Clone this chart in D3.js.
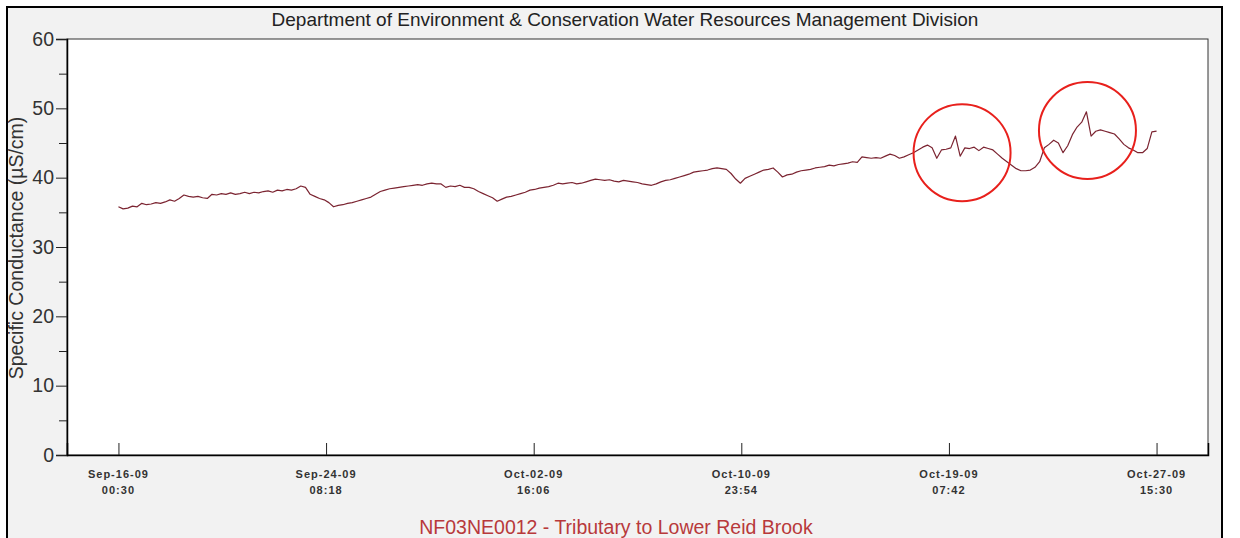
<!DOCTYPE html>
<html>
<head>
<meta charset="utf-8">
<script src="https://cdn.jsdelivr.net/npm/d3@7"></script>
<style>
  body { margin: 0; background: #ffffff; }
  svg { display: block; font-family: Arial, "Liberation Sans", sans-serif; }
</style>
</head>
<body>
<script>
// readings: every 4.5 hours from Sep-16-09 00:30 to Oct-27-09 15:30
const startTime = "2009-09-16 00:30";
const stepHours = 4.5;
const conductance = [
  35.8, 35.5, 35.6, 35.9, 35.8, 36.3, 36.1, 36.2, 36.4, 36.3,
  36.5, 36.8, 36.6, 37.0, 37.5, 37.3, 37.2, 37.3, 37.1, 37.0,
  37.6, 37.5, 37.7, 37.6, 37.8, 37.6, 37.7, 37.9, 37.7, 37.9,
  37.8, 38.0, 38.1, 37.9, 38.2, 38.1, 38.3, 38.2, 38.4, 38.8,
  38.6, 37.6, 37.3, 37.0, 36.8, 36.4, 35.8, 36.0, 36.1, 36.3,
  36.4, 36.6, 36.8, 37.0, 37.2, 37.6, 38.0, 38.2, 38.4, 38.5,
  38.6, 38.7, 38.8, 38.9, 39.0, 38.9, 39.1, 39.2, 39.1, 39.1,
  38.6, 38.8, 38.7, 38.9, 38.6, 38.6, 38.4, 38.0, 37.7, 37.4,
  37.1, 36.6, 36.9, 37.2, 37.3, 37.5, 37.7, 37.9, 38.2, 38.3,
  38.5, 38.6, 38.7, 38.9, 39.2, 39.1, 39.2, 39.3, 39.1, 39.2,
  39.4, 39.6, 39.8, 39.7, 39.6, 39.7, 39.5, 39.4, 39.6, 39.5,
  39.4, 39.3, 39.1, 39.0, 38.9, 39.1, 39.4, 39.6, 39.7, 39.9,
  40.1, 40.3, 40.5, 40.8, 40.9, 41.0, 41.1, 41.3, 41.4, 41.3,
  41.2, 40.6, 39.8, 39.2, 39.9, 40.2, 40.5, 40.8, 41.1, 41.2,
  41.4, 40.8, 40.1, 40.4, 40.5, 40.8, 41.0, 41.1, 41.2, 41.4,
  41.5, 41.6, 41.8, 41.7, 41.9, 42.0, 42.1, 42.3, 42.2, 43.0,
  42.9, 42.8, 42.9, 42.8, 43.1, 43.4, 43.2, 42.8, 43.0, 43.3,
  43.6, 44.0, 44.4, 44.7, 44.3, 42.8, 44.0, 44.1, 44.3, 46.0,
  43.1, 44.3, 44.2, 44.4, 43.9, 44.4, 44.2, 44.0, 43.4, 42.8,
  42.3, 41.8, 41.3, 41.0, 41.0, 41.1, 41.5, 42.3, 44.3, 44.8,
  45.4, 45.0, 43.6, 44.6, 46.2, 47.3, 48.0, 49.5, 46.0, 46.7,
  46.9, 46.7, 46.5, 46.3, 45.6, 44.8, 44.3, 44.0, 43.6, 43.6,
  44.2, 46.6, 46.7
];

const tickTimes = ["2009-09-16 00:30", "2009-09-24 08:18", "2009-10-02 16:06",
                   "2009-10-10 23:54", "2009-10-19 07:42", "2009-10-27 15:30"];
const yTicks = [0, 10, 20, 30, 40, 50, 60];
const yMinorTicks = [5, 15, 25, 35, 45, 55];

// the two circled events
const noteTimes = ["2009-10-19 20:20", "2009-10-24 21:00"];
const noteValues = [43.6, 46.8];

const titleText = "Department of Environment & Conservation Water Resources Management Division";
const footerText = "NF03NE0012 - Tributary to Lower Reid Brook";
const yLabel = "Specific Conductance (\u00b5S/cm)";

const W = 1240, H = 538;
const plot = {left: 67, top: 39, right: 1208, bottom: 455};
const padHours = 49.5;

const parse = d3.utcParse("%Y-%m-%d %H:%M");
const t0 = parse(startTime);
const data = conductance.map((v, i) => ({t: d3.utcMinute.offset(t0, Math.round(i * stepHours * 60)), v: v}));
const tEnd = data[data.length - 1].t;

const x = d3.scaleUtc()
  .domain([d3.utcMinute.offset(t0, -padHours * 60), d3.utcMinute.offset(tEnd, padHours * 60)])
  .range([plot.left, plot.right]);
const y = d3.scaleLinear().domain([0, 60]).range([plot.bottom, plot.top]);

const svg = d3.select("body").append("svg").attr("width", W).attr("height", H);

// frame
svg.append("rect").attr("x", 7).attr("y", 7).attr("width", 1215).attr("height", 540)
  .attr("fill", "#f2f2f2").attr("stroke", "#000").attr("stroke-width", 2);

svg.append("rect").attr("x", plot.left).attr("y", plot.top)
  .attr("width", plot.right - plot.left).attr("height", plot.bottom - plot.top)
  .attr("fill", "#fff").attr("stroke", "#333").attr("stroke-width", 1);

// y axis
const yAxis = svg.append("g").attr("transform", `translate(${plot.left},0)`)
  .call(d3.axisLeft(y).tickValues(yTicks).tickSize(11).tickPadding(2));
yAxis.select(".domain").attr("stroke", "#000").attr("stroke-width", 1.5);
yAxis.selectAll(".tick line").attr("stroke", "#222");
yAxis.selectAll(".tick text").attr("font-size", 19.5).attr("fill", "#333")
  .attr("font-family", "Arial, 'Liberation Sans', sans-serif");

svg.append("g").attr("transform", `translate(${plot.left},0)`)
  .call(d3.axisLeft(y).tickValues(yMinorTicks).tickSize(8).tickFormat(""))
  .call(g => g.select(".domain").remove())
  .selectAll(".tick line").attr("stroke", "#222");

// x axis, ticks pointing into the plot
const fmtDate = d3.utcFormat("%b-%d-%y");
const fmtTime = d3.utcFormat("%H:%M");
const xAxis = svg.append("g").attr("transform", `translate(0,${plot.bottom})`)
  .call(d3.axisTop(x).tickValues(tickTimes.map(parse)).tickSize(12).tickFormat(""));
xAxis.select(".domain").attr("stroke", "#000").attr("stroke-width", 1.5);
xAxis.selectAll(".tick line").attr("stroke", "#222");

const xl = svg.append("g").selectAll("text").data(tickTimes.map(parse)).enter()
  .append("text")
  .attr("x", d => x(d))
  .attr("y", plot.bottom + 23)
  .attr("text-anchor", "middle")
  .attr("font-size", 11)
  .attr("font-weight", "bold")
  .attr("letter-spacing", 1)
  .attr("fill", "#333");
xl.append("tspan").attr("x", d => x(d)).text(d => fmtDate(d));
xl.append("tspan").attr("x", d => x(d)).attr("dy", 16).text(d => fmtTime(d));

// series
const line = d3.line().x(d => x(d.t)).y(d => y(d.v));
svg.append("path").datum(data)
  .attr("d", line)
  .attr("fill", "none")
  .attr("stroke", "#7b2431")
  .attr("stroke-width", 1.2)
  .attr("stroke-linejoin", "round");

// annotation circles
svg.append("g").selectAll("circle").data(noteTimes).enter()
  .append("circle")
  .attr("cx", d => x(parse(d)))
  .attr("cy", (d, i) => y(noteValues[i]))
  .attr("r", 48.5)
  .attr("fill", "none")
  .attr("stroke", "#e8201c")
  .attr("stroke-width", 2);

// texts
svg.append("text").attr("x", 625).attr("y", 26).attr("text-anchor", "middle")
  .attr("font-size", 19).attr("fill", "#222").text(titleText);

svg.append("text").attr("x", 616).attr("y", 534).attr("text-anchor", "middle")
  .attr("font-size", 19.5).attr("fill", "#b8393b").text(footerText);

svg.append("text")
  .attr("transform", `translate(23,${248}) rotate(-90)`)
  .attr("text-anchor", "middle")
  .attr("font-size", 19.5).attr("fill", "#333").text(yLabel);
</script>
</body>
</html>
